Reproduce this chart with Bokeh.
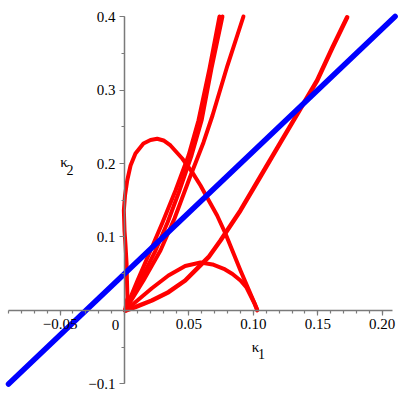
from bokeh.plotting import figure
from bokeh.models import Range1d, FixedTicker, CustomJSTickFormatter, Label
from bokeh.embed import file_html
from bokeh.resources import INLINE

# ---- data ----
blue_x = [-0.09, 0.21]
blue_y = [-0.10, 0.40]

arch_outer_x = [0.0004, 0.0023, 0.0019, 0.0016, 0.0008, 0.0, -0.0005, 0.0004, 0.0021, 0.0047,
                0.0085, 0.0147, 0.0202, 0.0254, 0.0303, 0.0357, 0.0448, 0.0525, 0.0590, 0.0654,
                0.0719, 0.0784, 0.0900, 0.1030]
arch_outer_y = [0.0, 0.0177, 0.0408, 0.0639, 0.0884, 0.1088, 0.1361, 0.1565, 0.1769, 0.1973,
                0.2136, 0.2272, 0.2320, 0.2336, 0.2313, 0.2245, 0.2068, 0.1882, 0.1701, 0.1497,
                0.1293, 0.1044, 0.0544, 0.0014]

arch_inner_x = [0.0008, 0.0054, 0.0109, 0.0210, 0.0341, 0.0471, 0.0590, 0.0683, 0.0771, 0.0838,
                0.0900, 0.0947, 0.0978, 0.1009, 0.1030]
arch_inner_y = [0.0, 0.0068, 0.0150, 0.0299, 0.0476, 0.0605, 0.0653, 0.0626, 0.0567, 0.0497,
                0.0408, 0.0313, 0.0204, 0.0095, 0.0]

branch_p_x = [0.0008, 0.0083, 0.0212, 0.0341, 0.0471, 0.0561, 0.0652, 0.0745, 0.0900, 0.1055,
              0.1211, 0.1366, 0.1495, 0.1614, 0.1728]
branch_p_y = [0.0, 0.0045, 0.0136, 0.0249, 0.0408, 0.0567, 0.0725, 0.0952, 0.1361, 0.1823,
              0.2286, 0.2748, 0.3129, 0.3578, 0.3990]

branch_a_x = [0.0004, 0.0101, 0.0202, 0.0295, 0.0396, 0.0497, 0.0574, 0.0660, 0.0737]
branch_a_y = [0.0, 0.0408, 0.0816, 0.1197, 0.1633, 0.2109, 0.2585, 0.3293, 0.4000]

branch_b_x = [0.0004, 0.0124, 0.0241, 0.0334, 0.0427, 0.0520, 0.0598, 0.0675, 0.0760]
branch_b_y = [0.0, 0.0408, 0.0816, 0.1197, 0.1633, 0.2109, 0.2585, 0.3293, 0.4000]

branch_c_x = [0.0004, 0.0147, 0.0279, 0.0388, 0.0504, 0.0613, 0.0683, 0.0799, 0.0923]
branch_c_y = [0.0, 0.0408, 0.0816, 0.1252, 0.1796, 0.2286, 0.2653, 0.3333, 0.4000]

x_ticks = [-0.05, 0.0, 0.05, 0.10, 0.15, 0.20]
x_tick_labels = ["\u22120.05", "", "0.05", "0.10", "0.15", "0.20"]
x_minor = [round(-0.09 + 0.01 * i, 2) for i in range(30)]
y_ticks = [-0.1, 0.1, 0.2, 0.3, 0.4]
y_tick_labels = ["\u22120.1", "0.1", "0.2", "0.3", "0.4"]
y_minor = [-0.1, -0.05, 0.0, 0.05, 0.1, 0.15, 0.2, 0.25, 0.3, 0.35, 0.4]

x_axis_bounds = (-0.09, 0.208)
y_axis_bounds = (-0.1, 0.4)

RED = "#ff0000"
BLUE = "#0000ff"
AXIS = "#7a7a7a"
FONT = "Liberation Serif"

# frame covers the whole 400x400 page; axes are drawn through the origin
p = figure(width=400, height=400, x_range=Range1d(-0.09623, 0.21419),
           y_range=Range1d(-0.12245, 0.42177),
           output_backend="svg", toolbar_location=None,
           min_border_left=0, min_border_right=0, min_border_top=0, min_border_bottom=0)
p.grid.visible = False
p.outline_line_color = None

for xs, ys, w in [(arch_outer_x, arch_outer_y, 4), (arch_inner_x, arch_inner_y, 4),
                  (branch_p_x, branch_p_y, 4.5), (branch_a_x, branch_a_y, 4),
                  (branch_b_x, branch_b_y, 4), (branch_c_x, branch_c_y, 4)]:
    p.line(xs, ys, line_color=RED, line_width=w, line_join="round", line_cap="round")

p.line(blue_x, blue_y, line_color=BLUE, line_width=5.5, line_cap="round")

def fmt(vals, labs):
    return CustomJSTickFormatter(args=dict(vals=vals, labs=labs), code="""
        for (let i = 0; i < vals.length; i++) {
            if (Math.abs(vals[i] - tick) < 1e-9) return labs[i];
        }
        return "";
    """)

for ax, ticks, minor, labs, bnds in [(p.xaxis[0], x_ticks, x_minor, x_tick_labels, x_axis_bounds),
                                     (p.yaxis[0], y_ticks, y_minor, y_tick_labels, y_axis_bounds)]:
    ax.fixed_location = 0
    ax.bounds = bnds
    ax.ticker = FixedTicker(ticks=ticks, minor_ticks=minor)
    ax.formatter = fmt(ticks, labs)
    ax.axis_line_color = AXIS
    ax.axis_line_width = 1.5
    ax.major_tick_line_color = AXIS
    ax.minor_tick_line_color = AXIS
    ax.major_tick_line_width = 1.2
    ax.minor_tick_line_width = 1.2
    ax.major_tick_in = 0
    ax.major_tick_out = 5
    ax.minor_tick_in = 0
    ax.minor_tick_out = 3
    ax.major_label_text_font = FONT
    ax.major_label_text_font_size = "15px"
    ax.major_label_text_color = "black"
    ax.major_label_standoff = 4

txt = dict(text_font=FONT, text_color="black", text_align="center", text_baseline="middle")
p.add_layout(Label(x=-0.007, y=-0.0204, text="0", text_font_size="15px", **txt))
p.add_layout(Label(x=0.1017, y=-0.0497, text="\u03ba", text_font_size="15px", **txt))
p.add_layout(Label(x=0.1063, y=-0.0592, text="1", text_font_size="14px", **txt))
p.add_layout(Label(x=-0.047, y=0.2014, text="\u03ba", text_font_size="15px", **txt))
p.add_layout(Label(x=-0.0423, y=0.1918, text="2", text_font_size="14px", **txt))

open("out.html", "w").write(file_html(p, INLINE))
